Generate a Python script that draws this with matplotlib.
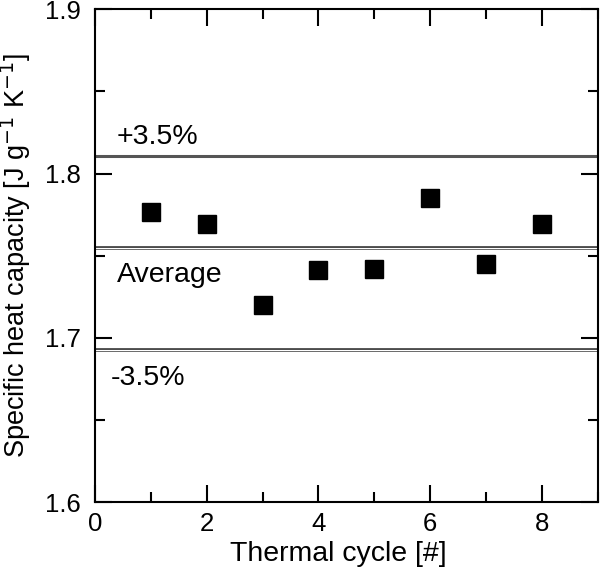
import matplotlib.pyplot as plt
from matplotlib.ticker import MultipleLocator

plt.rcParams['font.family'] = ['Liberation Sans', 'DejaVu Sans']

cycles = [1, 2, 3, 4, 5, 6, 7, 8]
heat_capacity = [1.7768, 1.7692, 1.7201, 1.7415, 1.7421, 1.7852, 1.7451, 1.7692]
average = 1.7546
upper = 1.8106
lower = 1.6927

fig = plt.figure(figsize=(6.0, 5.73), dpi=100)
ax = fig.add_axes([0.158, 0.1234, 0.8387, 0.8604])

# reference lines (double-line look: dark line with white core)
ax.axhline(upper, color='#555555', lw=2.2, zorder=1)
for yv in (average, lower):
    ax.axhline(yv, color='#333333', lw=2.6, zorder=1)
    ax.axhline(yv, color='white', lw=0.9, zorder=1.1)

ax.plot(cycles, heat_capacity, 's', color='black', markersize=13, zorder=3)

fs = 18.5
lfs = 20.5
ax.text(0.39, 1.818, '+3.5%', fontsize=lfs, va='baseline')
ax.text(0.39, 1.7341, 'Average', fontsize=lfs, va='baseline')
ax.text(0.29, 1.6714, '-3.5%', fontsize=lfs, va='baseline')

ax.set_xlim(0, 9)
ax.set_ylim(1.6, 1.9)
ax.xaxis.set_major_locator(MultipleLocator(2))
ax.xaxis.set_minor_locator(MultipleLocator(1))
ax.yaxis.set_major_locator(MultipleLocator(0.1))
ax.yaxis.set_minor_locator(MultipleLocator(0.05))
ax.yaxis.set_major_formatter(plt.FuncFormatter(lambda v, p: f'{v:.1f}'))

ax.tick_params(which='both', direction='in', top=True, right=True, width=1.5, labelsize=fs)
ax.tick_params(which='major', length=12)
ax.tick_params(which='minor', length=7)
ax.tick_params(axis='y', pad=10)
ax.tick_params(axis='x', pad=7)
for s in ax.spines.values():
    s.set_linewidth(1.5)

ax.set_xlabel('Thermal cycle [#]', fontsize=lfs)
ax.set_ylabel('Specific heat capacity [J g$^{-1}$ K$^{-1}$]', fontsize=19.5)
ax.xaxis.set_label_coords(0.483, -0.078)
ax.yaxis.set_label_coords(-0.122, 0.5)

fig.savefig('out.png', dpi=100)
